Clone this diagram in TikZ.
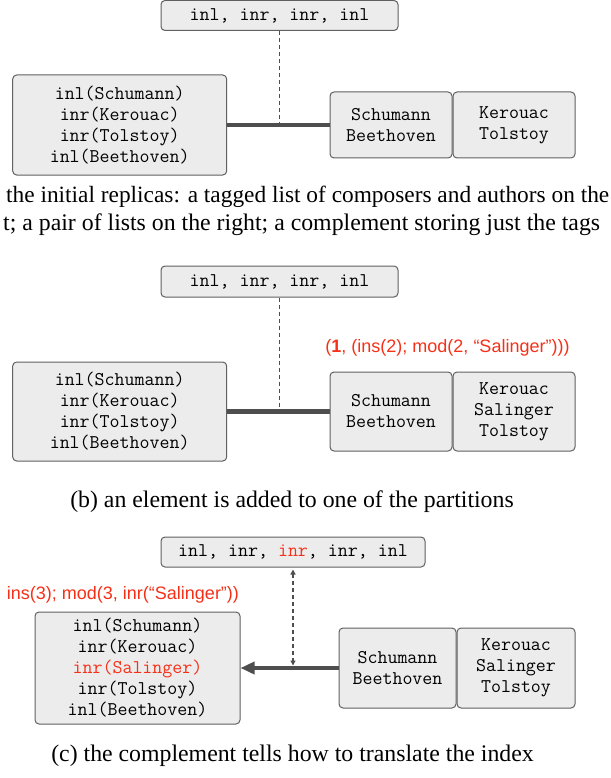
\documentclass[tikz,border=0pt]{standalone}
\usepackage{fontspec}
\setmainfont{Liberation Serif}
\setsansfont{Liberation Sans}
\usepackage{xcolor}
\usetikzlibrary{positioning}
\usetikzlibrary{arrows.meta}
\definecolor{boxfill}{RGB}{236,236,236}
\definecolor{boxline}{RGB}{96,96,96}
\definecolor{linkgray}{RGB}{78,78,78}
\definecolor{opred}{RGB}{246,48,24}
\def\hl#1{\textcolor{opred}{#1}}

\begin{document}
\begin{tikzpicture}[x=1pt,y=-1pt,
	box/.style={draw=boxline,fill=boxfill,rounded corners=4pt,line width=1pt,inner sep=0pt,
		align=center,font=\ttfamily\fontsize{19.4}{21}\selectfont\addfontfeature{FakeBold=0.6}},
	link/.style={draw=linkgray,line width=4.5pt},
	tagline/.style={draw=linkgray,line width=1.3pt,dash pattern=on 4pt off 3pt},
	tagtip/.tip={Triangle[length=5pt,width=5pt]},
	oplabel/.style={text=opred,inner sep=0pt,font=\sffamily\fontsize{18}{21}\selectfont},
	caption/.style={inner sep=0pt,font=\fontsize{23.8}{28}\selectfont}]
	\useasboundingbox (0,0) rectangle (610,778);
	% (a) initial replicas
	\node[box,minimum width=237pt,minimum height=30pt] (tagsA) at (279.5,15.5) {inl, inr, inr, inl};
	\node[box,minimum width=214pt,minimum height=100pt] (listA) at (119.7,125)
		{inl(Schumann)\\inr(Kerouac)\\inr(Tolstoy)\\inl(Beethoven)};
	\node[box,minimum width=122pt,minimum height=66pt] (leftA) at (391,125) {Schumann\\Beethoven};
	\node[box,minimum width=122pt,minimum height=66pt,right=0pt of leftA] (rightA) {Kerouac\\Tolstoy};
	\draw[link] (listA.east)--(leftA.west);
	\draw[tagline] (tagsA.south)--(tagsA.south |- listA.east);
	\node[caption,anchor=base west,font=\fontsize{23.35}{28}\selectfont] (capA1) at (6,202) {the initial replicas: a tagged list of composers and authors on the};
	\node[caption,anchor=base west] (capA2) at (3,230) {t; a pair of lists on the right; a complement storing just the tags};
	% (b) element added on the right
	\node[box,minimum width=237pt,minimum height=31pt] (tagsB) at (279.5,281.5) {inl, inr, inr, inl};
	\node[box,minimum width=214pt,minimum height=99pt] (listB) at (119.7,411.5)
		{inl(Schumann)\\inr(Kerouac)\\inr(Tolstoy)\\inl(Beethoven)};
	\node[box,minimum width=122pt,minimum height=79pt] (leftB) at (391,411.5) {Schumann\\Beethoven};
	\node[box,minimum width=122pt,minimum height=79pt,right=0pt of leftB] (rightB) {Kerouac\\Salinger\\Tolstoy};
	\node[oplabel] (opB) at (447.5,348) {(\textbf{1}, (ins(2); mod(2, “Salinger”)))};
	\draw[link] (listB.east)--(leftB.west);
	\draw[tagline] (tagsB.south)--(tagsB.south |- listB.east);
	\node[caption,anchor=base] (capB) at (292,507) {(b) an element is added to one of the partitions};
	% (c) translated back through the complement
	\node[box,minimum width=264pt,minimum height=30pt] (tagsC) at (293,552) {inl, inr, \hl{inr}, inr, inl};
	\node[box,minimum width=205pt,minimum height=112pt] (listC) at (137.5,668)
		{inl(Schumann)\\inr(Kerouac)\\\hl{inr(Salinger)}\\inr(Tolstoy)\\inl(Beethoven)};
	\node[box,minimum width=117pt,minimum height=80pt] (leftC) at (397.5,668) {Schumann\\Beethoven};
	\node[box,minimum width=118pt,minimum height=80pt,right=0pt of leftC] (rightC) {Kerouac\\Salinger\\Tolstoy};
	\node[oplabel] (opC) at (123,595) {ins(3); mod(3, inr(“Salinger”))};
	\draw[link,-{Triangle[length=14pt,width=12pt]}] (leftC.west)--(listC.east);
	\draw[tagline,tagtip-tagtip,shorten <=2pt,shorten >=2.5pt] (tagsC.south)--(tagsC.south |- listC.east);
	\node[caption,anchor=base] (capC) at (292.5,761) {(c) the complement tells how to translate the index};
\end{tikzpicture}
\end{document}
